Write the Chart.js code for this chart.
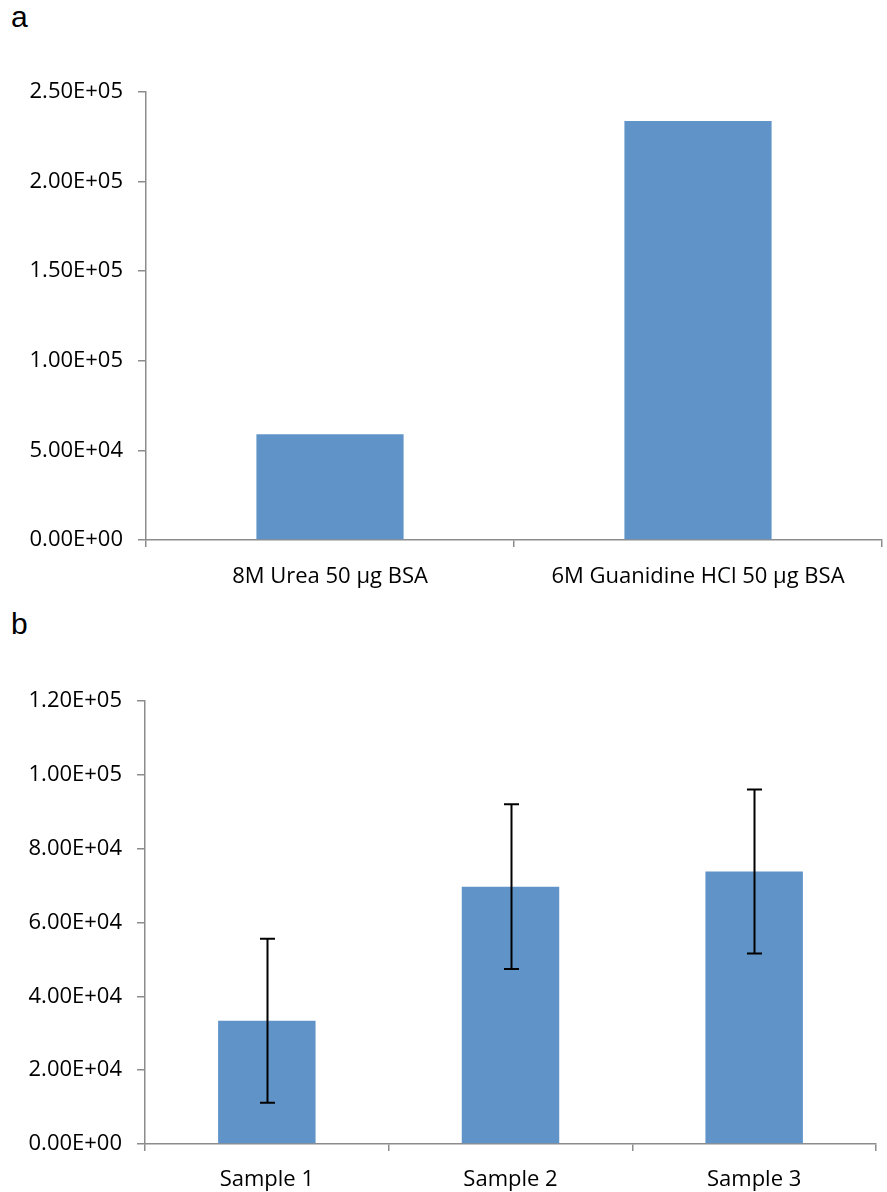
<!DOCTYPE html>
<html>
<head>
<meta charset="utf-8">
<script src="https://cdn.jsdelivr.net/npm/chart.js@4/dist/chart.umd.min.js"></script>
<style>
  html, body { margin: 0; padding: 0; background: #fff; }
  body { width: 887px; height: 1192px; position: relative; overflow: hidden; }
  .panel { position: absolute; left: 0; width: 887px; }
  .letter { position: absolute; left: 11px; font-family: "Liberation Sans", Arial, sans-serif; font-size: 30px; color: #000; }
</style>
</head>
<body>
<div class="letter" style="top:0px;">a</div>
<div class="panel" style="top:0px;height:600px;"><canvas id="chartA" width="887" height="600"></canvas></div>
<div class="letter" style="top:607px;">b</div>
<div class="panel" style="top:600px;height:592px;"><canvas id="chartB" width="887" height="592"></canvas></div>
<script>
// Panel a: signal by denaturant
const categoriesA = ['8M Urea 50 µg BSA', '6M Guanidine HCl 50 µg BSA'];
const valuesA = [59000, 233800];
const yMaxA = 250000;
const yStepA = 50000;

// Panel b: samples with error bars
const categoriesB = ['Sample 1', 'Sample 2', 'Sample 3'];
const valuesB = [33400, 69700, 73800];
const errorsB = [22200, 22300, 22200];
const yMaxB = 120000;
const yStepB = 20000;

const barColor = '#6094c9';
const axisColor = '#8c8c8c';
const fontFamily = '"Open Sans", sans-serif';

// Excel style labels, e.g. 2.50E+05
const sciLabel = (v) => {
  const parts = Number(v).toExponential(2).split('e');
  const exp = parseInt(parts[1], 10);
  const sign = exp < 0 ? '-' : '+';
  return parts[0] + 'E' + sign + String(Math.abs(exp)).padStart(2, '0');
};

// Draws the error bars from the y scale of the chart.
const errorBarPlugin = {
  id: 'errorBars',
  afterDatasetsDraw(chart, args, opts) {
    if (!opts.errors) return;
    const ctx = chart.ctx;
    const yScale = chart.scales.y;
    const meta = chart.getDatasetMeta(0);
    const values = chart.data.datasets[0].data;
    ctx.save();
    ctx.strokeStyle = '#000';
    ctx.lineWidth = 2;
    meta.data.forEach((bar, i) => {
      const top = yScale.getPixelForValue(values[i] + opts.errors[i]);
      const bottom = yScale.getPixelForValue(values[i] - opts.errors[i]);
      const x = Math.round(bar.x) + 0.5;
      ctx.beginPath();
      ctx.moveTo(x, top);
      ctx.lineTo(x, bottom);
      ctx.moveTo(x - 7.5, top);
      ctx.lineTo(x + 7.5, top);
      ctx.moveTo(x - 7.5, bottom);
      ctx.lineTo(x + 7.5, bottom);
      ctx.stroke();
    });
    ctx.restore();
  }
};

const makeChart = (id, labels, values, yMax, yStep, box, errors) => {
  return new Chart(document.getElementById(id), {
    type: 'bar',
    data: {
      labels: labels,
      datasets: [{
        data: values,
        backgroundColor: barColor,
        borderWidth: 0,
        barPercentage: 0.4,
        categoryPercentage: 1.0
      }]
    },
    plugins: [errorBarPlugin],
    options: {
      responsive: false,
      animation: false,
      layout: { padding: { top: box.top, right: box.right, left: 0, bottom: 0 } },
      plugins: {
        legend: { display: false },
        tooltip: { enabled: false },
        errorBars: { errors: errors }
      },
      scales: {
        x: {
          grid: { display: true, drawOnChartArea: false, drawTicks: true, tickLength: 7, color: axisColor, lineWidth: 1.5 },
          border: { display: true, color: axisColor, width: 1.5 },
          ticks: { color: '#000', font: { family: fontFamily, size: 22 }, padding: box.labelPad, maxRotation: 0 },
          afterFit: (scale) => { scale.height = box.xHeight; }
        },
        y: {
          min: 0,
          max: yMax,
          grid: { display: true, drawOnChartArea: false, drawTicks: true, tickLength: 8, color: axisColor, lineWidth: 1.5 },
          border: { display: true, color: axisColor, width: 1.5 },
          ticks: {
            stepSize: yStep,
            color: '#000',
            font: { family: fontFamily, size: 22 },
            padding: 15,
            callback: (v) => sciLabel(v)
          },
          afterFit: (scale) => { scale.width = box.left; }
        }
      }
    }
  });
};

makeChart('chartA', categoriesA, valuesA, yMaxA, yStepA,
  { top: 92, right: 5, left: 146, xHeight: 60, labelPad: 17 }, null);
makeChart('chartB', categoriesB, valuesB, yMaxB, yStepB,
  { top: 101, right: 11, left: 145, xHeight: 48, labelPad: 16 }, errorsB);
</script>
</body>
</html>
